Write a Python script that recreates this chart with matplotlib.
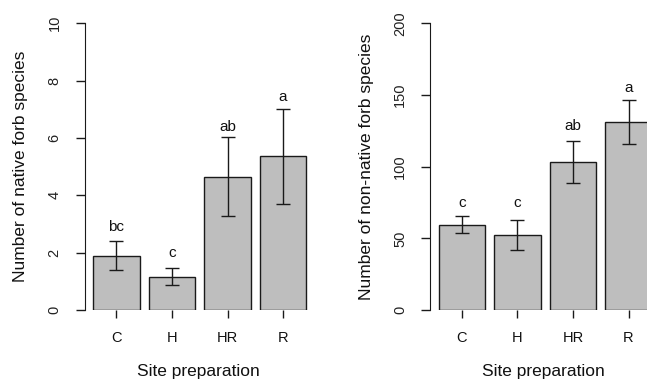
import matplotlib
matplotlib.use("Agg")
import matplotlib.pyplot as plt

plt.rcParams["font.family"] = ["Liberation Sans", "DejaVu Sans"]

# data
treatments = ["C", "H", "HR", "R"]
native_mean = [1.89, 1.16, 4.65, 5.36]
native_se = [0.51, 0.29, 1.37, 1.66]
native_letters = ["bc", "c", "ab", "a"]
native_letter_y = [2.9, 1.98, 6.4, 7.43]
native_yticks = [0, 2, 4, 6, 8, 10]

nonnative_mean = [59.5, 52.6, 103.2, 131.0]
nonnative_se = [6.0, 10.4, 14.6, 15.3]
nonnative_letters = ["c", "c", "ab", "a"]
nonnative_letter_y = [74.9, 74.9, 128.4, 154.7]
nonnative_yticks = [0, 50, 100, 150, 200]

# R barplot positions: width 1, space 0.2
x_pos = [0.7 + 1.2 * i for i in range(len(treatments))]

W, H = 647, 385
fig = plt.figure(figsize=(W / 100, H / 100), dpi=100)


def draw_panel(rect, means, se, letters, letter_y, yticks, ylabel):
    ax = fig.add_axes(rect)
    ax.bar(x_pos, means, width=1.0, color="#bebebe", edgecolor="#1a1a1a",
           linewidth=1.0)
    ax.errorbar(x_pos, means, yerr=se, fmt="none", ecolor="#1a1a1a",
                elinewidth=1.0, capsize=5, capthick=1.0)
    for x, y, s in zip(x_pos, letter_y, letters):
        ax.text(x, y, s, ha="center", va="center", fontsize=11, color="#111111")

    ax.set_xlim(0.012, 5.088)
    ax.set_ylim(yticks[0], yticks[-1])
    ax.set_xticks(x_pos)
    ax.set_xticklabels(treatments)
    ax.set_yticks(yticks)
    ax.set_yticklabels([str(t) for t in yticks], rotation=90, va="center")

    for side in ["top", "right", "bottom"]:
        ax.spines[side].set_visible(False)
    ax.spines["left"].set_bounds(yticks[0], yticks[-1])
    ax.spines["left"].set_color("#1a1a1a")
    ax.tick_params(axis="x", length=8 * 0.72, width=1.0, color="#1a1a1a",
                   pad=9.5, labelsize=10.5, labelcolor="#111111")
    ax.tick_params(axis="y", length=9 * 0.72, width=1.0, color="#1a1a1a",
                   pad=10, labelsize=10.5, labelcolor="#222222")
    ax.patch.set_visible(False)

    ax.set_xlabel("Site preparation", fontsize=12.5, color="#111111")
    ax.xaxis.set_label_coords(0.483, -0.19)
    ax.set_ylabel(ylabel, fontsize=12.5, color="#111111")
    ax.yaxis.set_label_coords(-0.24, 0.5)
    return ax


ax_w = 235 / W
ax_h = 286.7 / H
ax_b = 75 / H
draw_panel([84.6 / W, ax_b, ax_w, ax_h], native_mean, native_se,
           native_letters, native_letter_y, native_yticks,
           "Number of native forb species")
draw_panel([430 / W, ax_b, ax_w, ax_h], nonnative_mean, nonnative_se,
           nonnative_letters, nonnative_letter_y, nonnative_yticks,
           "Number of non-native forb species")

fig.savefig("out.png", dpi=100)
